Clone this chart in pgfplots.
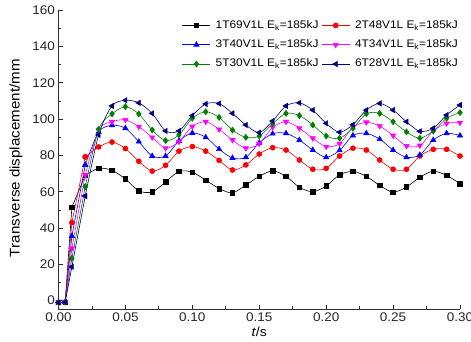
\documentclass[border=0pt]{standalone}
\usepackage{fontspec}
\setmainfont{Liberation Sans}[FakeStretch=1.08]
\usepackage{pgfplots}
\pgfplotsset{compat=1.18}
\usepackage{pgfplotstable}

\definecolor{cgreen}{RGB}{0,128,0}
\definecolor{cnavy}{RGB}{0,0,128}
\definecolor{cmag}{RGB}{255,0,255}
\definecolor{axisgray}{RGB}{45,45,45}

\pgfplotstableread{
t y
0 -1
0.005 -0.8
0.01 51.5
0.02 69.0
0.03 72.9
0.04 71.8
0.05 67.0
0.06 60.5
0.07 59.9
0.08 65.4
0.09 71.2
0.10 70.8
0.11 66.4
0.12 61.8
0.13 59.4
0.14 63.7
0.15 68.5
0.16 71.5
0.17 68.5
0.18 62.5
0.19 60.0
0.20 63.2
0.21 69.3
0.22 71.2
0.23 68.5
0.24 63.5
0.25 59.8
0.26 62.6
0.27 68.0
0.28 71.3
0.29 69.0
0.30 64.5
}\dataA

\pgfplotstableread{
t y
0 -1
0.005 -0.8
0.01 43.0
0.02 79.2
0.03 84.7
0.04 87.4
0.05 83.8
0.06 76.8
0.07 71.4
0.08 74.6
0.09 82.4
0.10 84.9
0.11 82.4
0.12 77.3
0.13 72.0
0.14 74.8
0.15 80.8
0.16 84.3
0.17 83.0
0.18 77.5
0.19 72.4
0.20 72.9
0.21 79.7
0.22 84.0
0.23 83.0
0.24 77.5
0.25 72.4
0.26 72.4
0.27 79.7
0.28 83.4
0.29 83.4
0.30 79.7
}\dataB

\pgfplotstableread{
t y
0 -1
0.005 -0.8
0.01 35.6
0.02 74.8
0.03 93.0
0.04 96.6
0.05 95.0
0.06 87.6
0.07 79.7
0.08 79.7
0.09 88.0
0.10 92.4
0.11 90.0
0.12 83.5
0.13 78.6
0.14 79.0
0.15 87.0
0.16 92.0
0.17 92.2
0.18 88.5
0.19 83.0
0.20 79.0
0.21 82.8
0.22 91.0
0.23 92.2
0.24 89.0
0.25 83.0
0.26 79.0
0.27 80.3
0.28 88.5
0.29 92.2
0.30 91.0
}\dataC

\pgfplotstableread{
t y
0 -1
0.005 -0.8
0.01 28.9
0.02 69.3
0.03 94.0
0.04 98.6
0.05 99.6
0.06 95.9
0.07 90.0
0.08 84.0
0.09 87.6
0.10 96.0
0.11 98.6
0.12 94.4
0.13 88.5
0.14 84.0
0.15 86.5
0.16 95.5
0.17 98.6
0.18 95.0
0.19 89.5
0.20 84.9
0.21 86.5
0.22 95.5
0.23 98.3
0.24 96.2
0.25 91.0
0.26 85.3
0.27 85.5
0.28 93.5
0.29 97.7
0.30 98.1
}\dataD

\pgfplotstableread{
t y
0 -1
0.005 -0.8
0.01 23.4
0.02 62.8
0.03 94.4
0.04 102.9
0.05 106.9
0.06 102.9
0.07 94.0
0.08 88.2
0.09 91.3
0.10 100.5
0.11 104.1
0.12 101.0
0.13 94.0
0.14 90.0
0.15 90.7
0.16 97.5
0.17 103.2
0.18 102.0
0.19 96.8
0.20 90.7
0.21 89.5
0.22 95.0
0.23 103.0
0.24 103.2
0.25 98.6
0.26 93.0
0.27 89.5
0.28 93.5
0.29 100.5
0.30 103.6
}\dataE

\pgfplotstableread{
t y
0 -1
0.005 -0.8
0.01 18.7
0.02 57.7
0.03 91.3
0.04 107.3
0.05 110.4
0.06 109.0
0.07 103.2
0.08 93.5
0.09 93.5
0.10 102.0
0.11 108.4
0.12 108.6
0.13 103.2
0.14 96.8
0.15 92.6
0.16 99.0
0.17 107.3
0.18 109.0
0.19 105.0
0.20 97.7
0.21 92.8
0.22 97.0
0.23 105.0
0.24 108.7
0.25 105.0
0.26 98.6
0.27 93.3
0.28 95.0
0.29 102.3
0.30 107.8
}\dataF

\newcommand{\series}[3]{%
  \addplot[#2, forget plot, restrict x to domain=0:0.025] table[x=t,y=y]{#1};
  \addplot[#2, smooth, tension=0.5, restrict x to domain=0.015:0.31] table[x=t,y=y]{#1};
  \addlegendentry{#3}}

\begin{document}
\begin{tikzpicture}
\begin{axis}[
  scale only axis,
  width=401.5pt, height=298.7pt,
  xmin=0, xmax=0.30, ymin=-4.6, ymax=160,
  axis x line*=bottom, axis y line*=left,
  axis line style={axisgray, line width=0.8pt, -},
  tick align=inside,
  xtick={0,0.05,0.1,0.15,0.2,0.25,0.3},
  minor xtick={0.025,0.075,0.125,0.175,0.225,0.275},
  ytick={0,20,40,60,80,100,120,140,160},
  minor ytick={10,30,50,70,90,110,130,150},
  major tick length=4pt, minor tick length=2.5pt,
  every tick/.style={axisgray, line width=0.8pt},
  scaled x ticks=false,
  /pgf/number format/assume math mode=true,
  xticklabel style={/pgf/number format/fixed, /pgf/number format/fixed zerofill, /pgf/number format/precision=2},
  tick label style={font=\fontsize{12.5}{14}\selectfont, text=black!85},
  xlabel={\textit{t}/s},
  ylabel={Transverse displacement/mm},
  xlabel style={font=\fontsize{13}{15}\selectfont, at={(axis description cs:0.5,0)}, anchor=center, yshift=-23pt},
  ylabel style={font=\fontsize{14}{16}\selectfont, at={(axis description cs:-0.106,0.505)}, anchor=center},
  every axis plot/.append style={line width=0.6pt},
  legend columns=2,
  legend cell align=left,
  legend style={draw=none, fill=none, at={(axis description cs:0.995,0.9675)}, anchor=north east,
    inner sep=0pt, font=\fontsize{11}{13}\selectfont, column sep=5pt, row sep=8.8pt,
    /tikz/every even column/.append style={column sep=3pt},
    nodes={inner sep=0pt, text height=8pt, text depth=2.5pt}},
  legend image code/.code={\draw[mark repeat=2, mark phase=2] plot coordinates {(0pt,0pt) (14pt,0pt) (28pt,0pt)};},
]
\series{\dataA}{color=black, mark=square*, mark size=2.3pt, mark options={solid, fill=black}}{1T69V1L E\textsubscript{k}=185kJ}
\series{\dataB}{color=red, mark=*, mark size=2.5pt, mark options={solid, fill=red}}{2T48V1L E\textsubscript{k}=185kJ}
\series{\dataC}{color=blue, mark=triangle*, mark size=3pt, mark options={solid, fill=blue}}{3T40V1L E\textsubscript{k}=185kJ}
\series{\dataD}{color=cmag, mark=triangle*, mark size=3pt, mark options={solid, fill=cmag, rotate=180}}{4T34V1L E\textsubscript{k}=185kJ}
\series{\dataE}{color=cgreen, mark=diamond*, mark size=3pt, mark options={solid, fill=cgreen}}{5T30V1L E\textsubscript{k}=185kJ}
\series{\dataF}{color=cnavy, mark=triangle*, mark size=3pt, mark options={solid, fill=cnavy, rotate=90}}{6T28V1L E\textsubscript{k}=185kJ}
\end{axis}
\pgfresetboundingbox
\path[use as bounding box] (current axis.south west) ++(-58.5pt,-33pt) rectangle ++(471pt,342pt);
\end{tikzpicture}
\end{document}
